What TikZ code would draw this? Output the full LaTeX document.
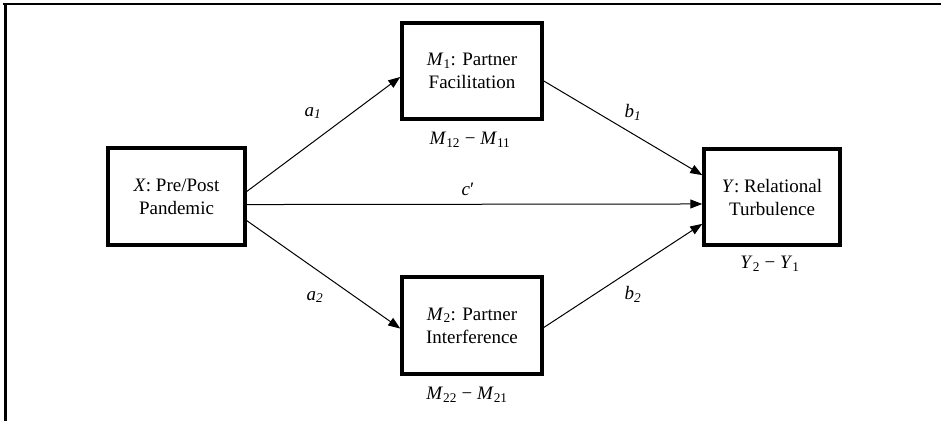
\documentclass[tikz,border=0pt]{standalone}
\usepackage{fontspec}
\setmainfont{Liberation Serif}
\usetikzlibrary{arrows.meta,calc}
\newcommand{\sbs}[1]{\textsubscript{#1}}
\begin{document}
\begin{tikzpicture}[x=1pt,y=-1pt,
  box/.style={draw,line width=3.5pt,minimum width=#1,inner sep=0pt,align=center,font=\fontsize{19}{23}\selectfont},
  lbl/.style={inner sep=0pt,font=\fontsize{19}{23}\selectfont},
  conn/.style={line width=1pt,-{Triangle[length=12pt,width=9pt]}}]
\useasboundingbox (0,0) rectangle (941,421);
\draw[line width=2.8pt] (3,4) -- (941,4);
\draw[line width=2.8pt] (5.5,3) -- (5.5,421);
\node[box=137pt,minimum height=97pt] (X) at (176.5,196.5) {\textit{X}: Pre/Post\\Pandemic};
\node[box=140pt,minimum height=96pt] (M1) at (472,71) {\textit{M}\sbs{1}: Partner\\Facilitation};
\node[box=140pt,minimum height=97pt] (M2) at (472,325.5) {\textit{M}\sbs{2}: Partner\\Interference};
\node[box=136pt,minimum height=96pt] (Y) at (772,197) {\textit{Y}: Relational\\Turbulence};
\node[lbl] (dM1) at (470,140) {\textit{M}\sbs{12} − \textit{M}\sbs{11}};
\node[lbl] (dM2) at (467,395) {\textit{M}\sbs{22} − \textit{M}\sbs{21}};
\node[lbl] (dY) at (770,264) {\textit{Y}\sbs{2} − \textit{Y}\sbs{1}};
\draw[conn] ($(X.north east)!0.45!(X.south east)$) -- ($(M1.north west)!0.56!(M1.south west)$);
\draw[conn] ($(X.north east)!0.58!(X.south east)$) -- ($(Y.north west)!0.57!(Y.south west)$);
\draw[conn] ($(X.north east)!0.74!(X.south east)$) -- ($(M2.north west)!0.53!(M2.south west)$);
\draw[conn] ($(M1.north east)!0.6!(M1.south east)$) -- ($(Y.north west)!0.28!(Y.south west)$);
\draw[conn] ($(M2.north east)!0.52!(M2.south east)$) -- ($(Y.north west)!0.77!(Y.south west)$);
\node[lbl] (la1) at (313,113) {\textit{a\sbs{1}}};
\node[lbl] (la2) at (315,297) {\textit{a\sbs{2}}};
\node[lbl] (lb1) at (633,112) {\textit{b\sbs{1}}};
\node[lbl] (lb2) at (633,294) {\textit{b\sbs{2}}};
\node[lbl] (lc) at (468,189) {\textit{c}′};
\end{tikzpicture}
\end{document}
